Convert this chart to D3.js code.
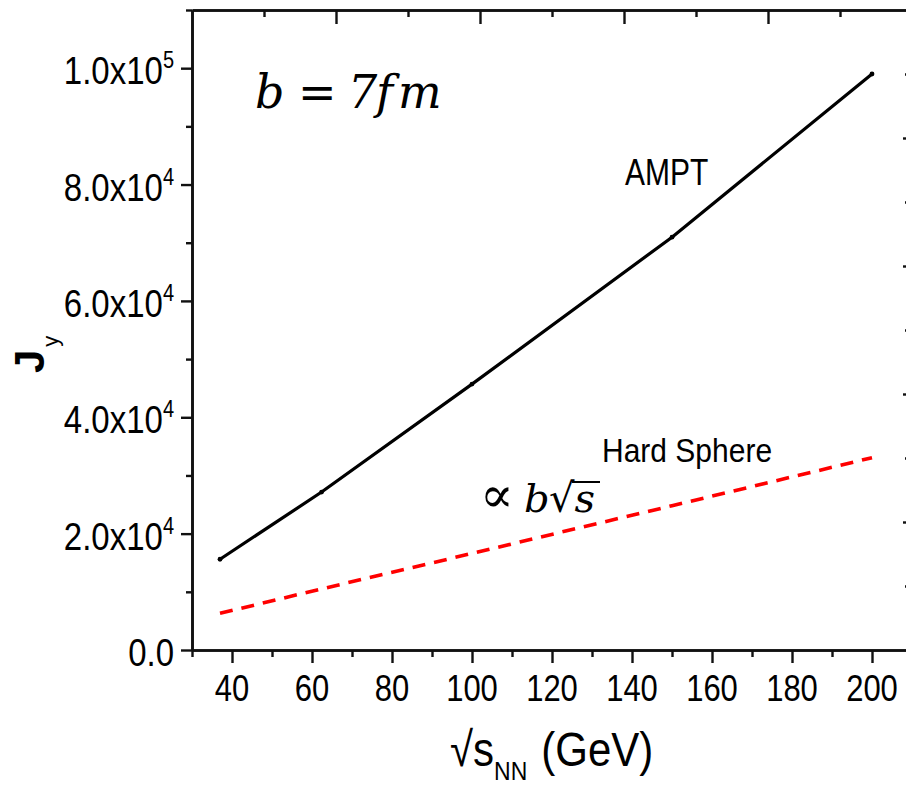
<!DOCTYPE html>
<html>
<head>
<meta charset="utf-8">
<script src="https://cdn.jsdelivr.net/npm/d3@7"></script>
<style>
  html, body { margin: 0; padding: 0; background: #fff; }
  svg { display: block; }
  .ax path, .ax line { stroke: #111; }
  text { fill: #000; }
</style>
</head>
<body>
<svg id="chart" width="906" height="788"></svg>
<script>
// ---- data ----
const energies = [37, 62.4, 100, 150, 200];               // sqrt(s_NN) in GeV
const amptJy   = [15600, 27150, 45700, 70950, 99000];      // AMPT
const hardSphereJy = [6300, 10500, 16600, 24800, 33050];   // Hard Sphere (∝ b√s)
const xTickValues = [40, 60, 80, 100, 120, 140, 160, 180, 200];
const yTickValues = [0, 20000, 40000, 60000, 80000, 100000];
const yTickMantissa = ["0.0", "2.0x10", "4.0x10", "6.0x10", "8.0x10", "1.0x10"];
const yTickExponent = ["", "4", "4", "4", "4", "5"];

const svg = d3.select("#chart");
const L = 192, R = 912, T = 10, B = 650;

const x = d3.scaleLinear().domain([30, 210]).range([L, R]);
const y = d3.scaleLinear().domain([0, 110000]).range([B, T]);
// mirror axes (top / right) have their own, unrelated tick spacing in the reference
const xTop = d3.scaleLinear().domain([0, 5]).range([L, R]);
const yRight = d3.scaleLinear().domain([0, 5]).range([B, T]);

const axW = 2.6;
function styleAxis(g) {
  g.select(".domain").attr("stroke-width", axW);
  g.selectAll(".tick line").attr("stroke-width", 2.4);
  g.selectAll(".tick text").remove();
}

// bottom axis: minor then major
svg.append("g").attr("class", "ax").attr("transform", `translate(0,${B})`)
  .call(d3.axisBottom(x).tickValues(d3.range(30, 211, 20)).tickSize(7).tickSizeOuter(0))
  .call(styleAxis);
svg.append("g").attr("class", "ax").attr("transform", `translate(0,${B})`)
  .call(d3.axisBottom(x).tickValues(xTickValues).tickSize(13).tickSizeOuter(0))
  .call(styleAxis);

// left axis
svg.append("g").attr("class", "ax").attr("transform", `translate(${L},0)`)
  .call(d3.axisLeft(y).tickValues(d3.range(10000, 110001, 20000)).tickSize(6).tickSizeOuter(0))
  .call(styleAxis);
svg.append("g").attr("class", "ax").attr("transform", `translate(${L},0)`)
  .call(d3.axisLeft(y).tickValues(yTickValues).tickSize(11).tickSizeOuter(0))
  .call(styleAxis);

// top axis (inward ticks)
svg.append("g").attr("class", "ax").attr("transform", `translate(0,${T})`)
  .call(d3.axisBottom(xTop).tickValues([0.5, 1.5, 2.5, 3.5, 4.5]).tickSize(7).tickSizeOuter(0))
  .call(styleAxis);
svg.append("g").attr("class", "ax").attr("transform", `translate(0,${T})`)
  .call(d3.axisBottom(xTop).tickValues([1, 2, 3, 4]).tickSize(14).tickSizeOuter(0))
  .call(styleAxis);

// right axis (inward ticks)
svg.append("g").attr("class", "ax").attr("transform", `translate(${R},0)`)
  .call(d3.axisLeft(yRight).tickValues([0.5, 1.5, 2.5, 3.5, 4.5]).tickSize(7).tickSizeOuter(0))
  .call(g => { styleAxis(g); g.selectAll(".tick line").attr("stroke", "#ccc"); });
svg.append("g").attr("class", "ax").attr("transform", `translate(${R},0)`)
  .call(d3.axisLeft(yRight).tickValues([1, 2, 3, 4]).tickSize(9).tickSizeOuter(0))
  .call(styleAxis);

// x tick labels
const sans = "'Liberation Sans', Arial, sans-serif";
svg.append("g").selectAll("text").data(xTickValues).join("text")
  .attr("transform", d => `translate(${x(d)},${B + 51}) scale(1,1.2)`)
  .attr("text-anchor", "middle")
  .attr("font-family", sans).attr("font-size", 31)
  .text(d => d);

// y tick labels with superscripts
const yl = svg.append("g").selectAll("text").data(yTickValues).join("text")
  .attr("transform", d => `translate(174,${y(d)}) scale(1,1.15)`)
  .attr("text-anchor", "end")
  .attr("font-family", sans).attr("font-size", 33)
  .attr("y", 14);
yl.append("tspan").text((d, i) => yTickMantissa[i]);
yl.append("tspan").attr("font-size", 20).attr("dy", -14).text((d, i) => yTickExponent[i]);

// lines
const line = d3.line().x(d => x(d[0])).y(d => y(d[1]));
const ampt = energies.map((e, i) => [e, amptJy[i]]);
const hs = energies.map((e, i) => [e, hardSphereJy[i]]);

svg.append("path").datum(hs).attr("d", line)
  .attr("fill", "none").attr("stroke", "#ff0000").attr("stroke-width", 3.6)
  .attr("stroke-dasharray", "13,9");
svg.append("path").datum(ampt).attr("d", line)
  .attr("fill", "none").attr("stroke", "#000").attr("stroke-width", 3.2);
svg.append("g").selectAll("circle").data(ampt).join("circle")
  .attr("cx", d => x(d[0])).attr("cy", d => y(d[1])).attr("r", 2.4).attr("fill", "#000");

// axis titles
const yt = svg.append("text")
  .attr("transform", "translate(44,373) rotate(-90)")
  .attr("font-family", sans);
yt.append("tspan").attr("font-size", 42).attr("font-weight", "bold").text("J");
yt.append("tspan").attr("font-size", 22).attr("dx", 3).attr("dy", 14).text("y");

const xt = svg.append("text")
  .attr("transform", "translate(450,766) scale(1,1.15)")
  .attr("font-family", sans).attr("font-size", 42);
xt.append("tspan").text("√s");
xt.append("tspan").attr("font-size", 23).attr("dy", 12).text("NN");
xt.append("tspan").attr("dy", -12).attr("dx", 14).text("(GeV)");

// annotations
svg.append("text").attr("transform", "translate(625,185) scale(1,1.2)")
  .attr("font-family", sans).attr("font-size", 30).text("AMPT");
svg.append("text").attr("transform", "translate(602,462) scale(1,1.12)")
  .attr("font-family", sans).attr("font-size", 30).text("Hard Sphere");

const serif = "'DejaVu Serif', 'Liberation Serif', serif";
const bt = svg.append("text").attr("font-family", serif).attr("font-size", 46).attr("y", 108);
bt.append("tspan").attr("x", 255).attr("font-style", "italic").text("b");
bt.append("tspan").attr("x", 298).text("=");
bt.append("tspan").attr("x", 348).attr("font-style", "italic").text("7");
bt.append("tspan").attr("x", 376).attr("font-style", "italic").text("f");
bt.append("tspan").attr("x", 398).attr("font-style", "italic").text("m");

const pt = svg.append("text").attr("font-family", serif).attr("font-size", 40).attr("y", 512);
pt.append("tspan").attr("x", 480).attr("font-size", 50).text("∝");
pt.append("tspan").attr("x", 524).attr("font-style", "italic").text("b");
pt.append("tspan").attr("x", 549).text("√");
pt.append("tspan").attr("font-style", "italic").text("s");
svg.append("line").attr("x1", 572).attr("x2", 600).attr("y1", 482).attr("y2", 482)
  .attr("stroke", "#000").attr("stroke-width", 2);
</script>
</body>
</html>
